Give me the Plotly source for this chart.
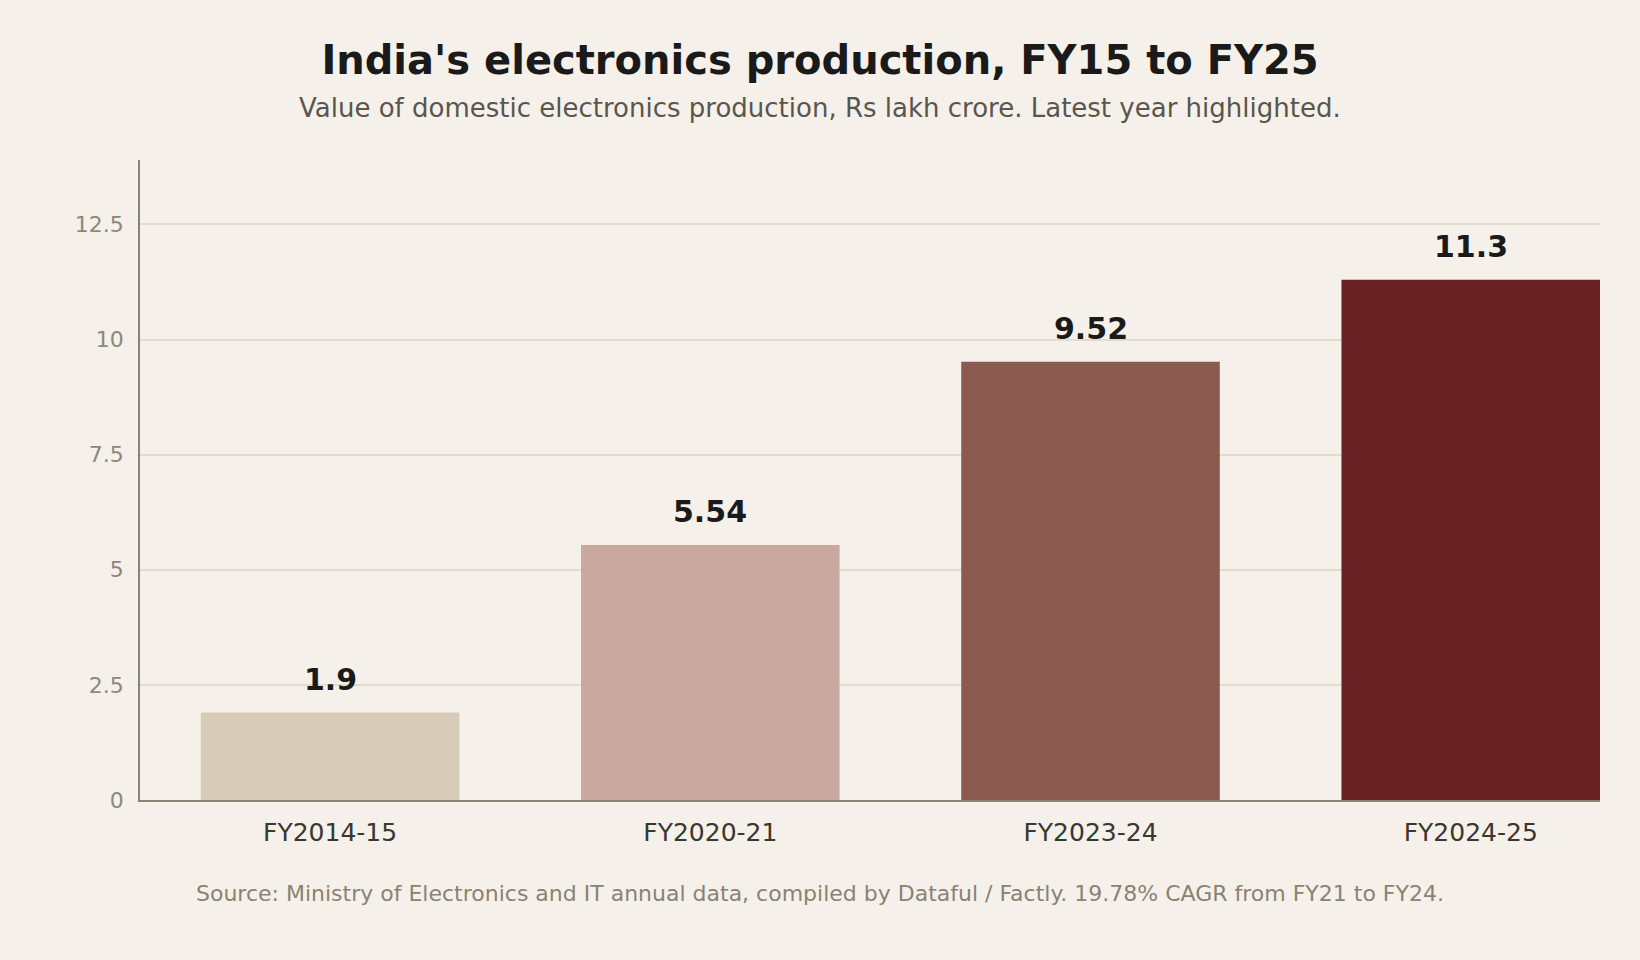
import plotly.graph_objects as go

categories = ["FY2014-15", "FY2020-21", "FY2023-24", "FY2024-25"]
values = [1.9, 5.54, 9.52, 11.3]
labels = ["1.9", "5.54", "9.52", "11.3"]
bar_colors = ["#d6ccb7", "#c9a89f", "#8b5a4f", "#692224"]
y_ticks = [0, 2.5, 5, 7.5, 10, 12.5]
y_tick_text = ["0", "2.5", "5", "7.5", "10", "12.5"]

FONT = "DejaVu Sans"
xs = list(range(len(categories)))
L, R, T, B = 140, 40, 160, 160
PW = 1640 - L - R

fig = go.Figure(
    go.Bar(
        x=xs,
        y=values,
        width=0.68,
        marker=dict(color=bar_colors, line=dict(width=0)),
        hoverinfo="skip",
    )
)

label_annotations = [
    dict(
        x=x, y=v, xref="x", yref="y",
        text=f"<b>{t}</b>",
        showarrow=False,
        yanchor="middle",
        yshift=33,
        font=dict(family=FONT, size=30, color="#1a1a1a"),
    )
    for x, v, t in zip(xs, values, labels)
]

fig.update_layout(
    width=1640,
    height=960,
    paper_bgcolor="#f5f1ea",
    plot_bgcolor="#f5f1ea",
    margin=dict(l=L, r=R, t=T, b=B),
    showlegend=False,
    font=dict(family=FONT),
    title=dict(
        text="<b>India's electronics production, FY15 to FY25</b>",
        x=0.5,
        xanchor="center",
        y=1 - 60 / 960,
        yanchor="middle",
        font=dict(family=FONT, size=40, color="#1a1a1a"),
    ),
    xaxis=dict(
        tickmode="array",
        tickvals=xs,
        ticktext=categories,
        range=[-0.5, 3.34],
        showgrid=False,
        showline=True,
        linecolor="#8a8272",
        linewidth=1.5,
        ticks="",
        tickfont=dict(family=FONT, size=25, color="#3a3630"),
        ticklabelstandoff=9,
        zeroline=False,
    ),
    yaxis=dict(
        range=[0, 13.9],
        tickmode="array",
        tickvals=y_ticks,
        ticktext=y_tick_text,
        showgrid=True,
        gridcolor="#e2dccb",
        gridwidth=1.5,
        showline=True,
        linecolor="#8a8272",
        linewidth=1.5,
        ticks="",
        tickfont=dict(family=FONT, size=22, color="#8d877b"),
        ticklabelstandoff=10,
        zeroline=False,
    ),
    annotations=label_annotations + [
        dict(
            text="Value of domestic electronics production, Rs lakh crore. Latest year highlighted.",
            xref="paper", yref="paper",
            x=(820 - L) / PW, xanchor="center",
            y=1 + (T - 108) / 640, yanchor="middle",
            showarrow=False,
            font=dict(family=FONT, size=26, color="#5a554d"),
        ),
        dict(
            text="Source: Ministry of Electronics and IT annual data, compiled by Dataful / Factly. 19.78% CAGR from FY21 to FY24.",
            xref="paper", yref="paper",
            x=(820 - L) / PW, xanchor="center",
            y=-(893 - 800) / 640, yanchor="middle",
            showarrow=False,
            font=dict(family=FONT, size=22, color="#8a8272"),
        ),
    ],
)

fig.write_html(
    "out.html",
    config={"displayModeBar": False},
    post_script="document.body.style.margin='0';",
)
